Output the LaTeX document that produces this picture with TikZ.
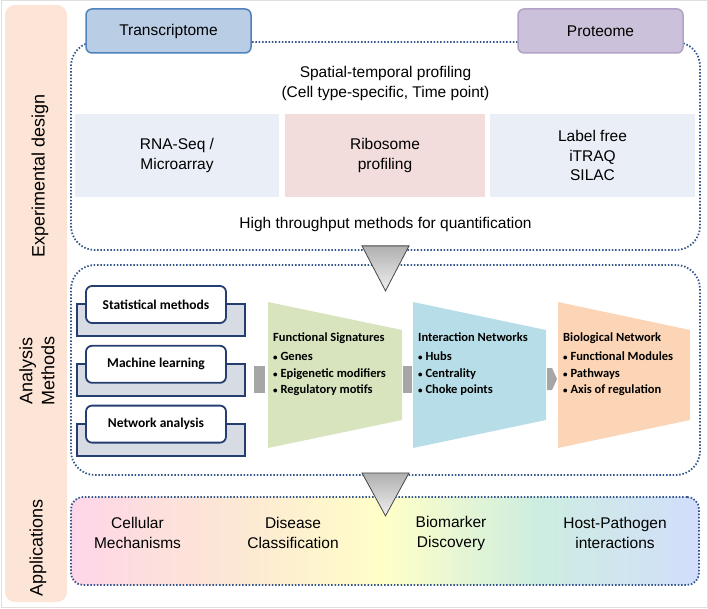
\documentclass[tikz,border=0pt]{standalone}
\usepackage{fontspec}
\setmainfont{Liberation Sans}
\newfontfamily\calibri{Carlito}
\usetikzlibrary{positioning, calc}

\definecolor{sidePeach}{RGB}{252,229,214}
\definecolor{frameBlue}{RGB}{52,86,140}
\definecolor{transFill}{RGB}{185,205,229}
\definecolor{transEdge}{RGB}{79,129,189}
\definecolor{protFill}{RGB}{204,193,218}
\definecolor{protEdge}{RGB}{178,162,199}
\definecolor{techBlue}{RGB}{233,238,247}
\definecolor{techPink}{RGB}{242,221,220}
\definecolor{navy}{RGB}{36,62,112}
\definecolor{shadowGray}{RGB}{215,219,227}
\definecolor{linkGray}{RGB}{166,166,166}
\definecolor{sigGreen}{RGB}{215,228,189}
\definecolor{sigBlue}{RGB}{183,222,232}
\definecolor{sigOrange}{RGB}{251,213,181}
\definecolor{triEdge}{RGB}{70,70,70}
\definecolor{appPink}{RGB}{255,214,233}
\definecolor{appRose}{RGB}{253,222,222}
\definecolor{appPeach}{RGB}{252,231,212}
\definecolor{appYellow}{RGB}{255,255,200}
\definecolor{appMint}{RGB}{205,237,224}
\definecolor{appBlue}{RGB}{210,222,252}

\pgfdeclarehorizontalshading{apps}{100bp}{color(0bp)=(appPink); color(25bp)=(appPink);
  color(31bp)=(appRose); color(38bp)=(appPeach); color(50bp)=(appYellow);
  color(62bp)=(appMint); color(75bp)=(appBlue); color(100bp)=(appBlue)}

\newcommand{\dotitem}{{\fontsize{9}{9}\selectfont\textbullet}~}

\begin{document}
\begin{tikzpicture}[
    x=1pt, y=-1pt,
    panel/.style={rectangle, rounded corners=10pt, fill=sidePeach, minimum width=62pt, minimum height=597pt},
    sidelabel/.style={rotate=90, align=center, font=\fontsize{18}{22}\selectfont},
    omics/.style={rectangle, rounded corners=6pt, line width=1.5pt, minimum width=165pt, minimum height=44pt, font=\fontsize{15.5}{19}\selectfont},
    dotframe/.style={rectangle, rounded corners=24pt, draw=frameBlue, line width=1.8pt, dash pattern=on 1.5pt off 1.8pt},
    techbox/.style={rectangle, minimum height=83pt, align=center, font=\fontsize{15.5}{19.5}\selectfont},
    heading/.style={align=center, font=\fontsize{15.5}{20}\selectfont},
    methodbox/.style={rectangle, rounded corners=6pt, draw=navy, line width=1.8pt, fill=white, minimum width=140pt, minimum height=37pt, font=\calibri\bfseries\fontsize{13.5}{16}\selectfont},
    shadowbox/.style={rectangle, draw=navy, line width=1.8pt, fill=shadowGray, minimum width=168pt, minimum height=32pt},
    link/.style={rectangle, fill=linkGray, minimum width=11pt, minimum height=27pt, inner sep=0},
    stage/.style={align=left, anchor=north west, inner sep=0, font=\calibri\bfseries\fontsize{12.5}{16.5}\selectfont},
    funnel/.style={draw=triEdge, line width=0.8pt, top color=gray!62, bottom color=gray!12},
    app/.style={align=center, font=\fontsize{15.5}{20}\selectfont}
]
\useasboundingbox (0,0) rectangle (708,609);
\draw[gray!25, line width=1pt] (1,1) rectangle (707,607);

% Side panel with section labels
\node[panel] (side) at (36,303.5) {};
\node[sidelabel] (lblDesign) at (40,176) {Experimental design};
\node[sidelabel] (lblAnalysis) at (37,371) {Analysis\\Methods};
\node[sidelabel] (lblApps) at (38,548) {Applications};

% Experimental design
\node[dotframe, minimum width=629pt, minimum height=208pt] (design) at (385.5,146) {};
\node[omics, draw=transEdge, fill=transFill] (trans) at (168.5,31) {Transcriptome};
\node[omics, draw=protEdge, fill=protFill] (prot) at (600.5,31) {Proteome};

\node[heading] (spatial) at (385.5,83) {Spatial-temporal profiling\\(Cell type-specific, Time point)};

\node[techbox, fill=techBlue, minimum width=204pt] (rna) at (177,155.5) {RNA-Seq /\\Microarray};
\node[techbox, fill=techPink, minimum width=200pt] (ribo) at (385,155.5) {Ribosome\\profiling};
\node[techbox, fill=techBlue, minimum width=205pt] (label) at (592.5,155.5) {Label free\\iTRAQ\\SILAC};

\node[heading] (quant) at (385.5,224) {High throughput methods for quantification};

% Analysis methods
\node[dotframe, minimum width=629pt, minimum height=210pt] (analysis) at (385.5,370) {};

\node[shadowbox] (statS) at (161,320) {};
\node[shadowbox, below=26pt of statS] (machS) {};
\node[shadowbox, below=26pt of machS] (netS) {};
\node[methodbox, anchor=south] (stat) at ([xshift=-5pt, yshift=13pt]statS.south) {Statistical methods};
\node[methodbox, anchor=south] (mach) at ([xshift=-5pt, yshift=13pt]machS.south) {Machine learning};
\node[methodbox, anchor=south] (net) at ([xshift=-5pt, yshift=13pt]netS.south) {Network analysis};

% Funnel stages
\fill[sigGreen] (268,302) -- (402,330) -- (402,420) -- (268,448) -- cycle;
\fill[sigBlue] (413,302) -- (546,330) -- (546,420) -- (413,448) -- cycle;
\fill[sigOrange] (558,302) -- (690,330) -- (690,420) -- (558,448) -- cycle;

\node[stage] (signatures) at (273,333) {Functional Signatures\\[2.5pt]\dotitem Genes\\\dotitem Epigenetic modifiers\\\dotitem Regulatory motifs};
\node[stage] (interactions) at (418,333) {Interaction Networks\\[2.5pt]\dotitem Hubs\\\dotitem Centrality\\\dotitem Choke points};
\node[stage] (biological) at (563,333) {Biological Network\\[2.5pt]\dotitem Functional Modules\\\dotitem Pathways\\\dotitem Axis of regulation};

\node[link] (link1) at (259,379.5) {};
\node[link, minimum width=9pt] (link2) at (407.5,379.5) {};
\fill[linkGray] (547,368) -- (552,368) -- (557,379) -- (552,390) -- (547,390) -- cycle;

% Applications
\node[dotframe, rounded corners=12pt, shade, shading=apps, minimum width=628pt, minimum height=88pt] (apps) at (385,541) {};
\node[app] (cellular) at (137.5,533) {Cellular\\Mechanisms};
\node[app] (disease) at (293,533) {Disease\\Classification};
\node[app] (biomarker) at (451,533) {Biomarker\\Discovery};
\node[app] (host) at (615,533) {Host-Pathogen\\interactions};

% Flow triangles between sections
\draw[funnel] ($(design.south)+(-23.5,-5)$) -- ($(design.south)+(23.5,-5)$) -- ($(design.south)+(0,40)$) -- cycle;
\draw[funnel] ($(analysis.south)+(-23.5,-3)$) -- ($(analysis.south)+(23.5,-3)$) -- ($(analysis.south)+(0,40)$) -- cycle;

\end{tikzpicture}
\end{document}
